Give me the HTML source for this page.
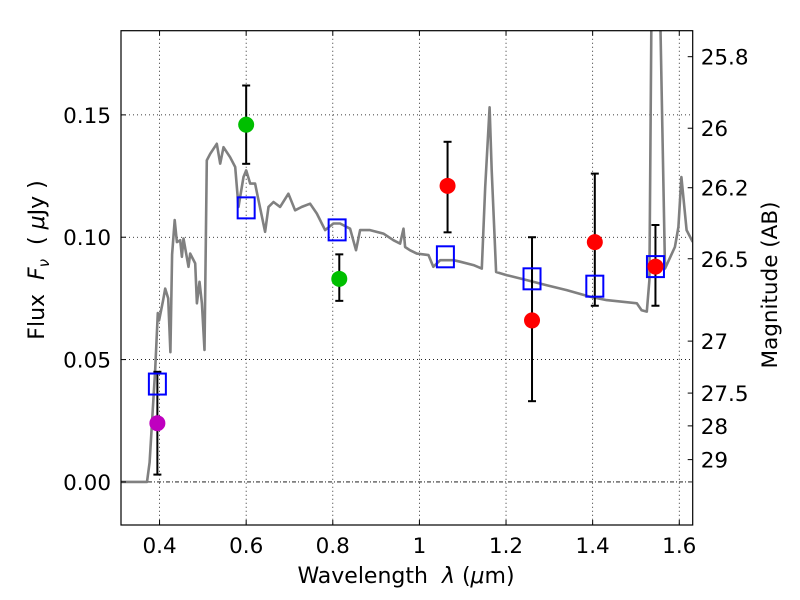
<!DOCTYPE html>
<html><head><meta charset="utf-8"><style>
body{margin:0;background:#fff}
svg{display:block;font-family:"DejaVu Sans","Liberation Sans",sans-serif}
</style></head><body>
<svg id="chart" width="800" height="600" xmlns="http://www.w3.org/2000/svg" xml:space="preserve">
<defs><clipPath id="clip"><rect x="121" y="31" width="571" height="494"/></clipPath></defs>
<g id="grid"></g>
<g id="spec" clip-path="url(#clip)"></g>
<g id="marks" clip-path="url(#clip)"></g>
<g id="axes"></g>
<text x="406" y="583" font-size="22" text-anchor="middle" style="white-space:pre">Wavelength  <tspan font-style="italic">λ</tspan> (<tspan font-style="italic">μ</tspan>m)</text>
<text transform="translate(44,260) rotate(-90)" font-size="22" text-anchor="middle" style="white-space:pre">Flux  <tspan font-style="italic">F</tspan><tspan font-style="italic" font-size="15" dy="5">ν</tspan><tspan dy="-5">  ( </tspan><tspan font-style="italic">μ</tspan>Jy )</text>
<text transform="translate(777,285) rotate(-90)" font-size="21.5" text-anchor="middle">Magnitude (AB)</text>
</svg>
<script>
const specX=[0.311,0.371,0.377,0.39,0.396,0.399,0.408,0.413,0.420,0.425,0.429,0.435,0.440,0.4477,0.4515,0.4554,0.4669,0.4708,0.4823,0.4862,0.4923,0.4977,0.5038,0.5092,0.5169,0.5323,0.5400,0.5477,0.5630,0.5746,0.5823,0.5938,0.6000,0.6092,0.6207,0.6284,0.6438,0.6515,0.6630,0.6784,0.6976,0.7130,0.7284,0.7476,0.7630,0.7822,0.8014,0.8168,0.8399,0.8537,0.8630,0.8860,0.9168,0.9399,0.9555,0.9632,0.967,0.978,0.994,1.021,1.032,1.048,1.079,1.094,1.125,1.144,1.152,1.162,1.167,1.177,1.202,1.248,1.294,1.340,1.394,1.432,1.502,1.513,1.525,1.531,1.536,1.555,1.567,1.590,1.598,1.605,1.617,1.631];
const specY=[0,0,0.008,0.046,0.069,0.066,0.074,0.079,0.075,0.053,0.093,0.107,0.098,0.0988,0.092,0.0995,0.0879,0.0933,0.0893,0.073,0.0818,0.073,0.0539,0.1314,0.1341,0.1382,0.1301,0.1368,0.1327,0.1287,0.1124,0.1246,0.1273,0.1219,0.1219,0.1151,0.1022,0.1124,0.1144,0.1124,0.1178,0.111,0.1124,0.1137,0.1097,0.1029,0.1056,0.1056,0.1035,0.0947,0.1029,0.1029,0.1015,0.0988,0.0974,0.1035,0.096,0.0947,0.0933,0.0927,0.0879,0.0906,0.0906,0.09,0.0886,0.0872,0.1205,0.1531,0.1273,0.0858,0.0845,0.0825,0.0804,0.0784,0.0757,0.0743,0.073,0.0702,0.0696,0.0825,0.2,0.2,0.0872,0.096,0.1042,0.1246,0.1029,0.0981];
const modelX=[0.395,0.60,0.81,1.06,1.26,1.405,1.545];
const modelY=[0.040,0.112,0.103,0.092,0.083,0.080,0.088];
const obsX=[0.395,0.60,0.815,1.065,1.26,1.405,1.545];
const obsY=[0.024,0.146,0.083,0.121,0.066,0.098,0.088];
const obsLo=[0.003,0.130,0.074,0.102,0.033,0.072,0.072];
const obsHi=[0.045,0.162,0.093,0.139,0.100,0.126,0.105];
const obsColor=['#bf00bf','#00bf00','#00bf00','#ff0000','#ff0000','#ff0000','#ff0000'];
const xTicks=[0.4,0.6,0.8,1.0,1.2,1.4,1.6];
const xTickLabels=['0.4','0.6','0.8','1','1.2','1.4','1.6'];
const yTicks=[0,0.05,0.10,0.15];
const yTickLabels=['0.00','0.05','0.10','0.15'];
const magTicks=[25.8,26,26.2,26.5,27,27.5,28,29];
const magLabels=['25.8','26','26.2','26.5','27','27.5','28','29'];

const L=121,R=692.7,T=30.7,B=525;
const X0=0.311,X1=1.631,Y0=-0.0176,Y1=0.1844;
const sx=v=>L+(v-X0)/(X1-X0)*(R-L);
const sy=v=>B-(v-Y0)/(Y1-Y0)*(B-T);
const NS='http://www.w3.org/2000/svg';
function mk(tag,parent,attrs){const e=document.createElementNS(NS,tag);for(const k in attrs)e.setAttribute(k,attrs[k]);parent.appendChild(e);return e;}
const grid=document.getElementById('grid'),axes=document.getElementById('axes'),spec=document.getElementById('spec'),marks=document.getElementById('marks');

xTicks.forEach((t,i)=>{
  const g=mk('line',grid,{x1:sx(t),x2:sx(t),y1:T,y2:B,stroke:'#000','stroke-width':0.8,'stroke-dasharray':'1,3'});
  
  
  mk('line',axes,{x1:sx(t),x2:sx(t),y1:B,y2:B-5,stroke:'#000'});
  mk('line',axes,{x1:sx(t),x2:sx(t),y1:T,y2:T+5,stroke:'#000'});
  const tx=mk('text',axes,{x:sx(t),y:B+28,'font-size':21.5,'text-anchor':'middle'});
  tx.textContent=xTickLabels[i];
  
  
});
yTicks.forEach((t,i)=>{
  const g=mk('line',grid,{x1:L,x2:R,y1:sy(t),y2:sy(t),stroke:'#000','stroke-width':0.8,'stroke-dasharray':t===0?'4,2,1,2':'1,3'});
  
  
  mk('line',axes,{x1:L,x2:L+5,y1:sy(t),y2:sy(t),stroke:'#000'});
  const tx=mk('text',axes,{x:L-10,y:sy(t)+8,'font-size':21.5,'text-anchor':'end'});
  tx.textContent=yTickLabels[i];
  
  
});
magTicks.forEach((m,i)=>{
  const f=Math.pow(10,(23.9-m)/2.5);
  const y=sy(f);
  mk('line',axes,{x1:R,x2:R-5,y1:y,y2:y,stroke:'#000'});
  const tx=mk('text',axes,{x:R+8,y:y+8,'font-size':21.5});
  tx.textContent=magLabels[i];
  
  
});
mk('rect',axes,{x:L,y:T,width:R-L,height:B-T,fill:'none',stroke:'#000','stroke-width':1.2});

const pts=specX.map((x,i)=>sx(x).toFixed(1)+','+sy(specY[i]).toFixed(1)).join(' ');
const pl=mk('polyline',spec,{points:pts,fill:'none',stroke:'#808080','stroke-width':2.6,'stroke-linejoin':'round'});



obsX.forEach((x,i)=>{
  const X=sx(x);
  const eb=mk('g',marks,{stroke:'#000','stroke-width':2});
  
  
  mk('line',eb,{x1:X,x2:X,y1:sy(obsLo[i]),y2:sy(obsHi[i])});
  mk('line',eb,{x1:X-4,x2:X+4,y1:sy(obsLo[i]),y2:sy(obsLo[i])});
  mk('line',eb,{x1:X-4,x2:X+4,y1:sy(obsHi[i]),y2:sy(obsHi[i])});
});
modelX.forEach((x,i)=>{
  const r=mk('rect',marks,{x:sx(x)-8.5,y:sy(modelY[i])-10.5,width:17,height:21,fill:'none',stroke:'#0000ff','stroke-width':2});
  
  
});
obsX.forEach((x,i)=>{
  const c=mk('circle',marks,{cx:sx(x),cy:sy(obsY[i]),r:8,fill:obsColor[i]});
  
  
});
</script>
</body></html>
